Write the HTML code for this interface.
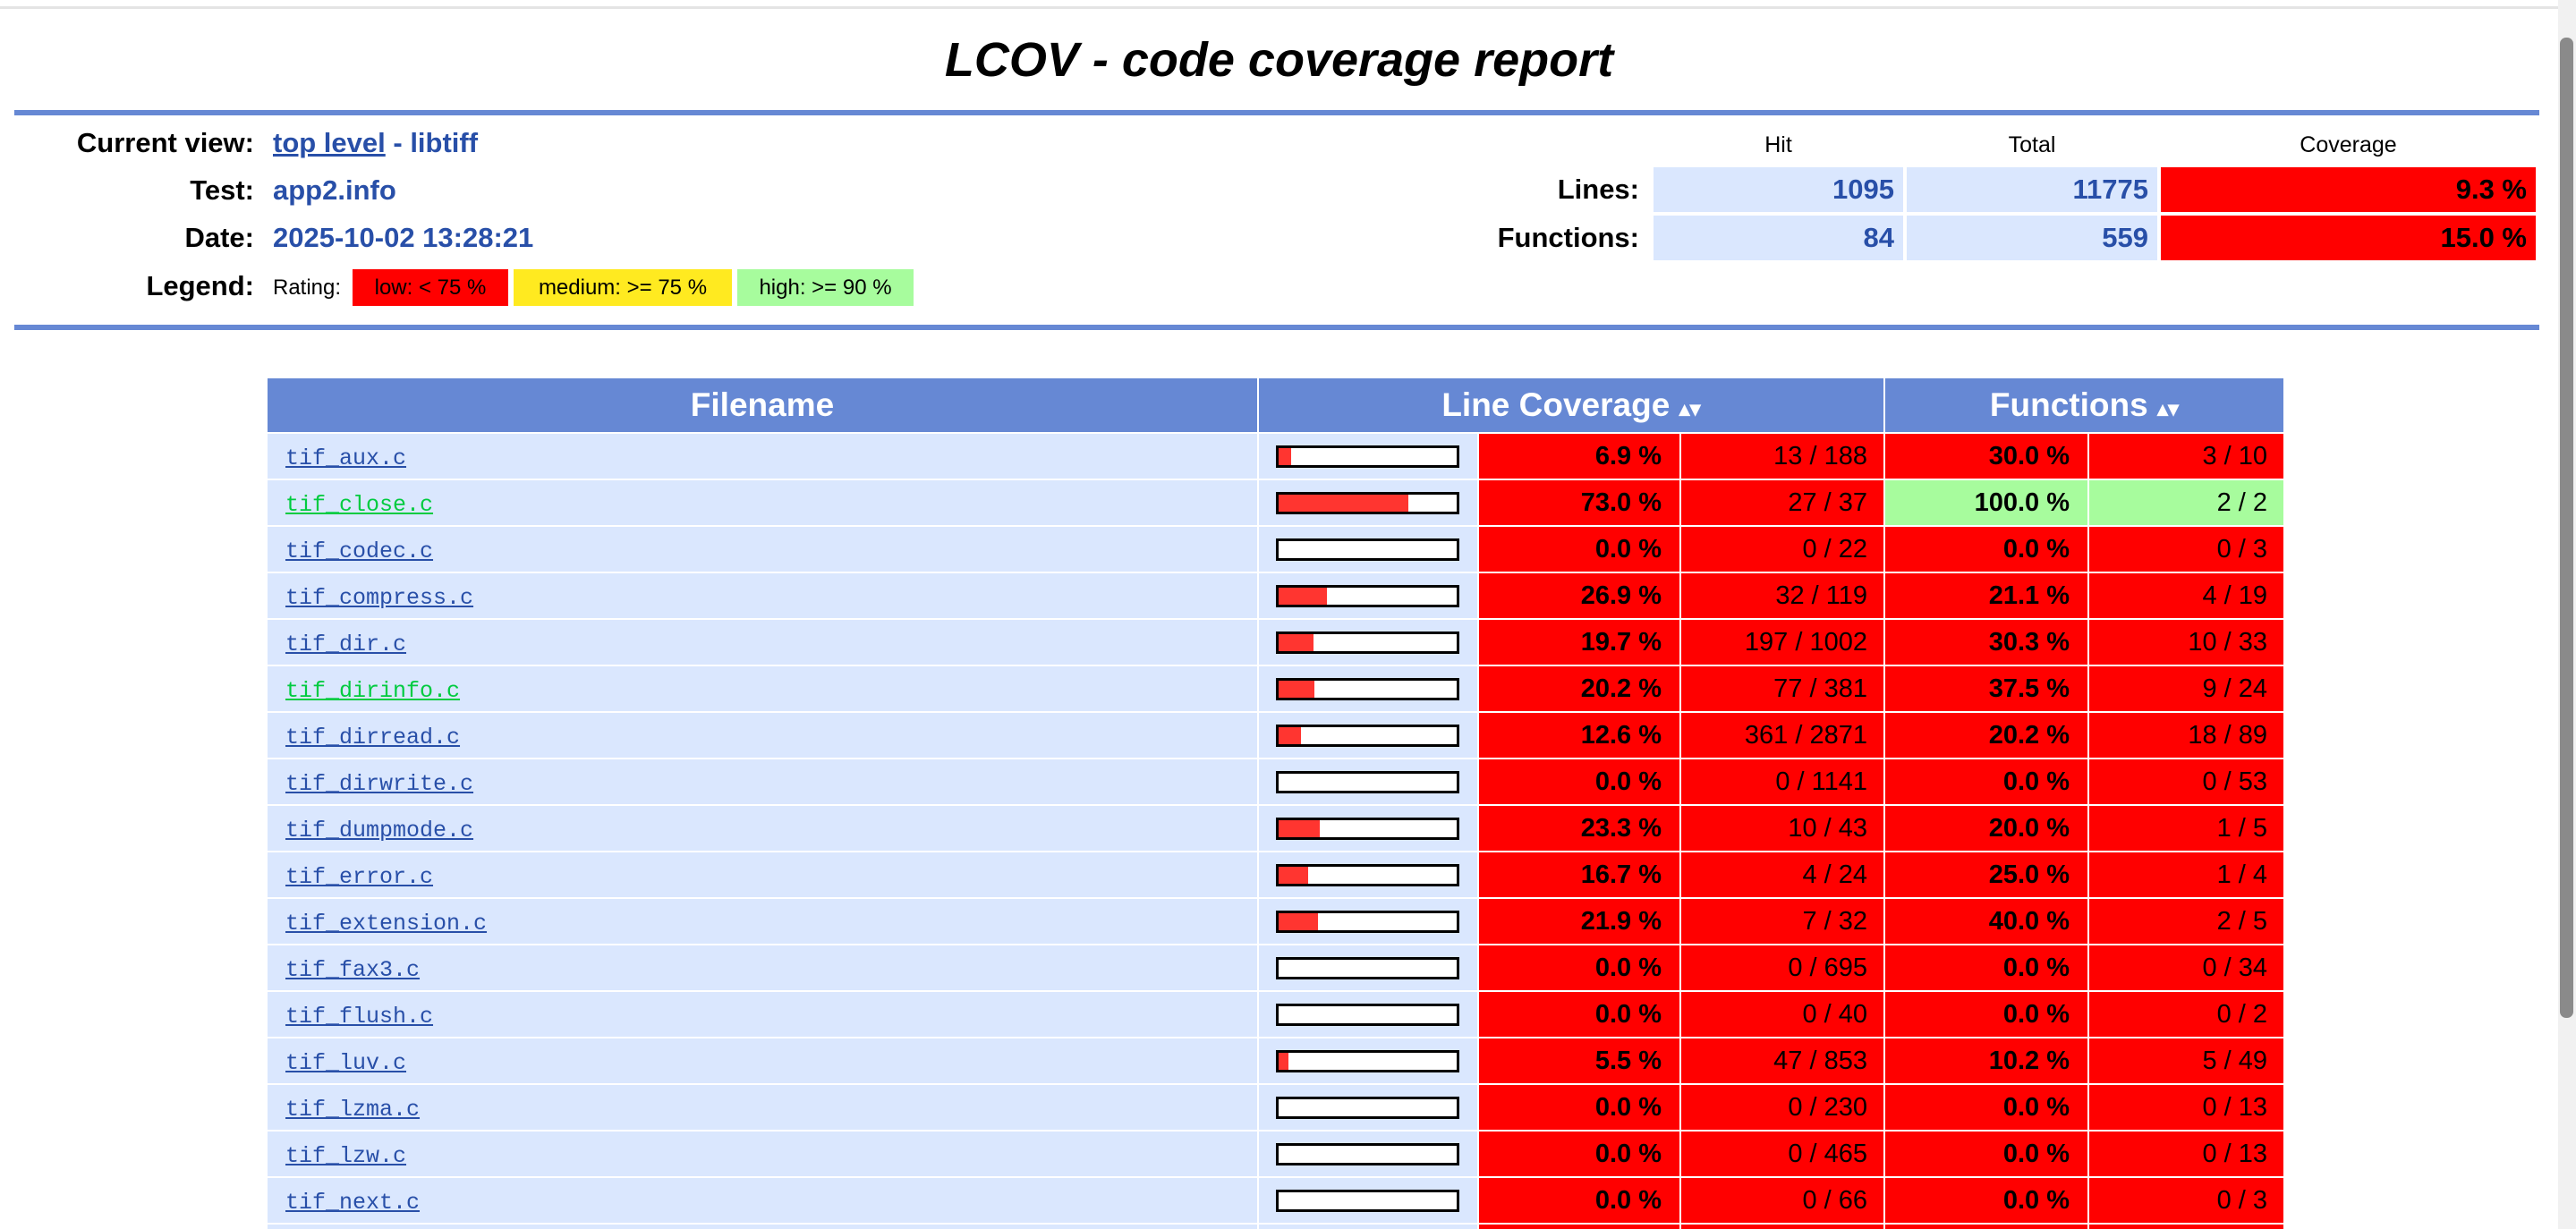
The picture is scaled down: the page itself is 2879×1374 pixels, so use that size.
<!DOCTYPE html>
<html style="overflow:hidden;height:1374px"><head><meta charset="utf-8"><style>
html,body{margin:0;padding:0}
body{width:2879px;height:1374px;overflow:hidden;background:#fff;font-family:"Liberation Sans",sans-serif;position:relative}
#wrap{position:absolute;left:0;top:0;width:2879px;height:1374px;overflow:hidden}
.a{position:absolute}
.lbl{position:absolute;font-weight:bold;font-size:31px;text-align:right;color:#000}
.val{position:absolute;font-weight:bold;font-size:31px;color:#284fa8}
.c{position:absolute;height:50px;line-height:50px;box-sizing:border-box;font-size:29px}
.hd{position:absolute;background:#6688d4;color:#fff;font-weight:bold;font-size:37px;text-align:center;top:423px;height:60px;line-height:60px}
</style></head><body>
<div id="wrap">
<div class="a" style="left:0;top:7px;width:2859px;height:3px;background:#e4e4e4"></div>
<div class="a" style="left:0;width:2859px;top:36px;text-align:center;font-size:54px;font-weight:bold;font-style:italic">LCOV - code coverage report</div>
<div class="a" style="left:16px;top:123px;width:2822px;height:6px;background:#6688d4"></div>
<div class="a" style="left:16px;top:363px;width:2822px;height:6px;background:#6688d4"></div>

<div class="lbl" style="right:2595px;top:142px">Current view:</div>
<div class="val" style="left:305px;top:142px"><span style="text-decoration:underline">top level</span> - libtiff</div>
<div class="lbl" style="right:2595px;top:195px">Test:</div>
<div class="val" style="left:305px;top:195px">app2.info</div>
<div class="lbl" style="right:2595px;top:248px">Date:</div>
<div class="val" style="left:305px;top:248px">2025-10-02 13:28:21</div>
<div class="lbl" style="right:2595px;top:302px">Legend:</div>
<div class="a" style="left:305px;top:308px;font-size:24px">Rating:</div>
<div class="a" style="left:394px;top:301px;width:174px;height:41px;line-height:41px;background:#ff0000;font-size:24px;text-align:center">low: &lt; 75 %</div>
<div class="a" style="left:574px;top:301px;width:244px;height:41px;line-height:41px;background:#ffea20;font-size:24px;text-align:center">medium: &gt;= 75 %</div>
<div class="a" style="left:824px;top:301px;width:197px;height:41px;line-height:41px;background:#a7fc9d;font-size:24px;text-align:center">high: &gt;= 90 %</div>

<div class="a" style="left:1848px;width:279px;top:148px;text-align:center;font-size:25px">Hit</div>
<div class="a" style="left:2131px;width:280px;top:148px;text-align:center;font-size:25px">Total</div>
<div class="a" style="left:2415px;width:419px;top:148px;text-align:center;font-size:25px">Coverage</div>
<div class="lbl" style="right:1047px;top:194px">Lines:</div>
<div class="lbl" style="right:1047px;top:248px">Functions:</div>
<div class="c" style="left:1848px;width:279px;top:187px;background:#dae7fe;text-align:right;padding-right:10px;color:#284fa8;font-weight:bold;font-size:31px">1095</div>
<div class="c" style="left:2131px;width:280px;top:187px;background:#dae7fe;text-align:right;padding-right:10px;color:#284fa8;font-weight:bold;font-size:31px">11775</div>
<div class="c" style="left:2415px;width:419px;top:187px;background:#ff0000;text-align:right;padding-right:10px;font-weight:bold;font-size:31px">9.3 %</div>
<div class="c" style="left:1848px;width:279px;top:241px;background:#dae7fe;text-align:right;padding-right:10px;color:#284fa8;font-weight:bold;font-size:31px">84</div>
<div class="c" style="left:2131px;width:280px;top:241px;background:#dae7fe;text-align:right;padding-right:10px;color:#284fa8;font-weight:bold;font-size:31px">559</div>
<div class="c" style="left:2415px;width:419px;top:241px;background:#ff0000;text-align:right;padding-right:10px;font-weight:bold;font-size:31px">15.0 %</div>

<div class="hd" style="left:299px;width:1106px">Filename</div>
<div class="hd" style="left:1407px;width:698px">Line Coverage <span style="font-size:24px">&#x25B4;&#x25BE;</span></div>
<div class="hd" style="left:2107px;width:445px">Functions <span style="font-size:24px">&#x25B4;&#x25BE;</span></div>

<div id="rows"></div>
<div class="a" style="left:2859px;top:0;width:20px;height:1374px;background:#f1f1f1"></div>
<div class="a" style="left:2861px;top:42px;width:15px;height:1096px;background:#8a8a8a;border-radius:7px"></div>
</div>
<script>
const files=["tif_aux.c","tif_close.c","tif_codec.c","tif_compress.c","tif_dir.c","tif_dirinfo.c","tif_dirread.c","tif_dirwrite.c","tif_dumpmode.c","tif_error.c","tif_extension.c","tif_fax3.c","tif_flush.c","tif_luv.c","tif_lzma.c","tif_lzw.c","tif_next.c","tif_open.c"];
const lineHit=[13,27,0,32,197,77,361,0,10,4,7,0,0,47,0,0,0,0];
const lineTotal=[188,37,22,119,1002,381,2871,1141,43,24,32,695,40,853,230,465,66,100];
const funcHit=[3,2,0,4,10,9,18,0,1,1,2,0,0,5,0,0,0,0];
const funcTotal=[10,2,3,19,33,24,89,53,5,4,5,34,2,49,13,13,3,10];
const greenLinks=[false,true,false,false,false,true,false,false,false,false,false,false,false,false,false,false,false,false];
const rows=document.getElementById('rows');
function color(p){return p>=90?'#a7fc9d':(p>=75?'#ffea20':'#ff0000');}
function cell(x,w,y,bg,html,extra){const d=document.createElement('div');d.className='c';d.style.cssText=`left:${x}px;width:${w}px;top:${y}px;background:${bg};`+(extra||'');d.innerHTML=html;rows.appendChild(d);return d;}
files.forEach((f,i)=>{
  const y=485+52*i;
  const lp=lineTotal[i]?lineHit[i]*100/lineTotal[i]:0;
  const fp=funcTotal[i]?funcHit[i]*100/funcTotal[i]:0;
  const a=cell(299,1106,y,'#dae7fe',`<span style="font-family:'Liberation Mono',monospace;font-size:25px;text-decoration:underline;color:${greenLinks[i]?'#00cb40':'#284fa8'}">${f}</span>`,'padding-left:20px;');
  
  
  const b=cell(1407,244,y,'#dae7fe',`<div style="position:absolute;left:19px;top:13px;width:199px;height:19px;border:3px solid #000;background:#fff"><div style="width:${lp*199/100}px;height:19px;background:#ff3530"></div></div>`);
  
  
  const c=cell(1653,224,y,color(lp),lp.toFixed(1)+' %','text-align:right;padding-right:20px;font-weight:bold;');
  
  
  const d=cell(1879,226,y,color(lp),lineHit[i]+' / '+lineTotal[i],'text-align:right;padding-right:18px;');
  
  
  const e=cell(2107,226,y,color(fp),fp.toFixed(1)+' %','text-align:right;padding-right:20px;font-weight:bold;');
  
  
  const g=cell(2335,217,y,color(fp),funcHit[i]+' / '+funcTotal[i],'text-align:right;padding-right:18px;');
  
  
});
</script>
</body></html>
